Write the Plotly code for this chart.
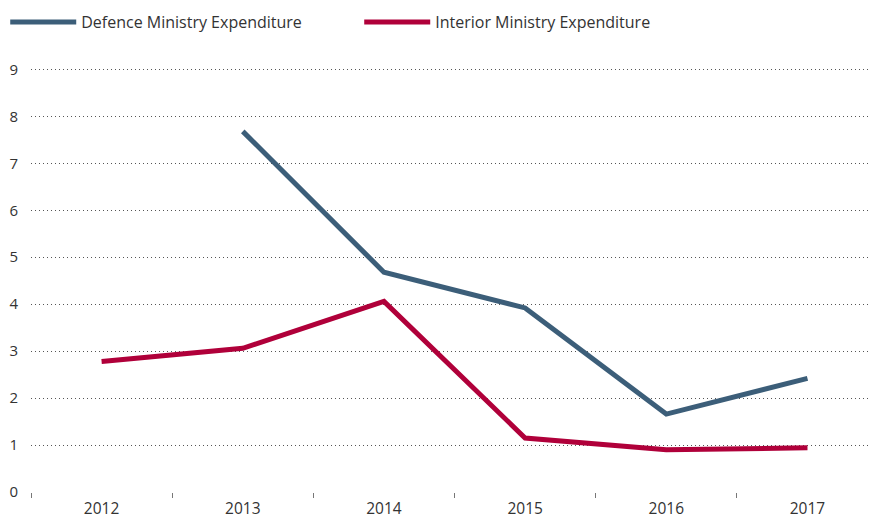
import plotly.graph_objects as go

years = ["2012", "2013", "2014", "2015", "2016", "2017"]
defence = [None, 7.68, 4.68, 3.92, 1.66, 2.42]
interior = [2.78, 3.06, 4.06, 1.15, 0.9, 0.94]
y_ticks = [0, 1, 2, 3, 4, 5, 6, 7, 8, 9]

fig = go.Figure()
fig.add_trace(go.Scatter(x=years, y=defence, mode="lines", name="Defence Ministry Expenditure",
                         line=dict(color="#3c5e79", width=5), connectgaps=False))
fig.add_trace(go.Scatter(x=years, y=interior, mode="lines", name="Interior Ministry Expenditure",
                         line=dict(color="#b0003a", width=5)))

fig.update_layout(
    width=871, height=518,
    margin=dict(l=31, r=0, t=60, b=26),
    paper_bgcolor="white", plot_bgcolor="white",
    font=dict(family="Open Sans", size=15, color="#333333"),
    showlegend=True,
    legend=dict(orientation="h", x=0.006, xanchor="left", xref="container",
                y=0.99, yanchor="top", yref="container",
                itemwidth=66, entrywidth=273, entrywidthmode="pixels",
                font=dict(size=16, color="#333333")),
    xaxis=dict(type="category", range=[-0.5, 5.45], showgrid=False, zeroline=False,
               ticks="outside", tickson="boundaries", ticklen=5, tickcolor="#777777",
               tickwidth=1, showline=False, tickfont=dict(size=15.5), automargin=False,
               ticklabelstandoff=5),
    yaxis=dict(range=[0, 9.2], tickvals=y_ticks, showgrid=True, gridcolor="#555555",
               griddash="1px,3px", gridwidth=1, zeroline=False, showline=False,
               ticks="", ticklabelstandoff=12, tickfont=dict(size=15), automargin=False),
)
fig.write_html("out.html", config={"displayModeBar": False},
               post_script="document.body.style.margin='0';")
